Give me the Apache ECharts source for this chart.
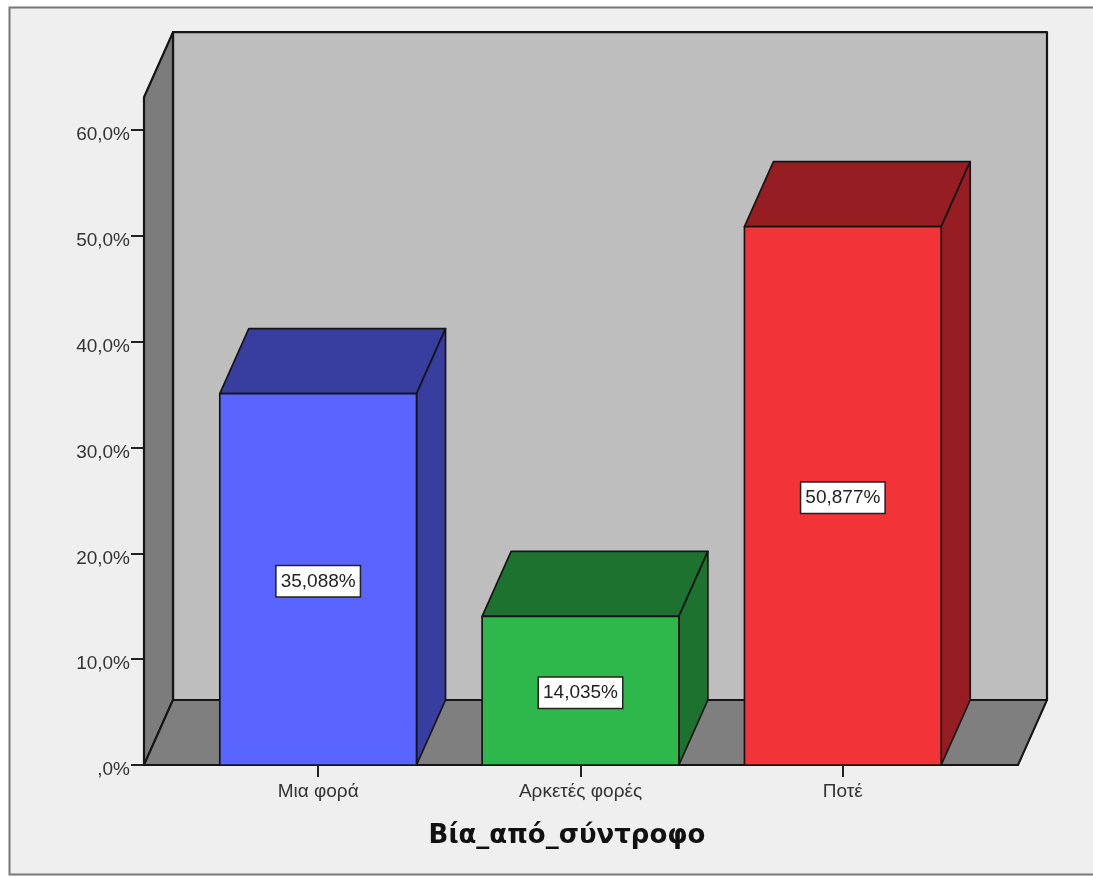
<!DOCTYPE html>
<html>
<head>
<meta charset="utf-8">
<style>html,body{margin:0;padding:0;background:#fff}#chart{width:1093px;height:877px}</style>
<script src="https://cdn.jsdelivr.net/npm/echarts@6/dist/echarts.min.js"></script>
</head>
<body>
<div id="chart"></div>
<script>
// Share of respondents per answer, percent
const categories = ['Μια φορά', 'Αρκετές φορές', 'Ποτέ'];
const percentages = [35.088, 14.035, 50.877];
const percentLabels = ['35,088%', '14,035%', '50,877%'];
const frontColors = ['#5a64ff', '#2eb84c', '#f23338'];
const shadeColors = ['#383e9f', '#1d722f', '#961e22'];
const axisTitle = 'Βία_από_σύντροφο';

// Oblique projection of the box depth, in pixels
const depthX = 29;
const depthY = -65;
const wallTopValue = 63.1;
const wallSideMargin = 43;

function poly(points, fill, lineWidth) {
  return {
    type: 'polygon',
    shape: { points },
    style: { fill, stroke: '#151515', lineWidth, lineJoin: 'round' }
  };
}

function renderRoom(params, api) {
  const cs = params.coordSys;
  const base = api.coord([0, 0])[1];
  const top = api.coord([0, wallTopValue])[1];
  const l = cs.x - wallSideMargin;
  const r = cs.x + cs.width + wallSideMargin + 1;
  return {
    type: 'group',
    children: [
      poly([[l + depthX, top + depthY], [r + depthX, top + depthY], [r + depthX, base + depthY], [l + depthX, base + depthY]], '#bebebe', 2.2),
      poly([[l, top], [l + depthX, top + depthY], [l + depthX, base + depthY], [l, base]], '#7c7c7c', 2.2),
      poly([[l, base], [l + depthX, base + depthY], [r + depthX, base + depthY], [r, base]], '#7f7f7f', 2)
    ]
  };
}

function renderBox(params, api) {
  const i = params.dataIndex;
  const c = api.value(0);
  const v = api.value(1);
  const half = api.size([1, 0])[0] * 0.375;
  const [cx, yTop] = api.coord([c, v]);
  const yBase = api.coord([c, 0])[1];
  const mid = api.coord([c, v / 2])[1];
  const x0 = cx - half;
  const x1 = cx + half;
  return {
    type: 'group',
    children: [
      poly([[x0, yTop], [x0 + depthX, yTop + depthY], [x1 + depthX, yTop + depthY], [x1, yTop]], shadeColors[i], 1.7),
      poly([[x1, yTop], [x1 + depthX, yTop + depthY], [x1 + depthX, yBase + depthY], [x1, yBase]], shadeColors[i], 1.7),
      poly([[x0, yTop], [x1, yTop], [x1, yBase], [x0, yBase]], frontColors[i], 1.7),
      {
        type: 'text',
        x: cx,
        y: mid + 2,
        style: {
          text: percentLabels[i],
          fontFamily: 'Liberation Sans',
          fontSize: 19,
          fill: '#222',
          align: 'center',
          verticalAlign: 'middle',
          backgroundColor: '#fff',
          borderColor: '#222',
          borderWidth: 1.5,
          padding: [6, 4, 5, 4]
        }
      }
    ]
  };
}

const chart = echarts.init(document.getElementById('chart'), null, { renderer: 'canvas' });
chart.setOption({
  animation: false,
  backgroundColor: '#fff',
  graphic: [{
    type: 'rect',
    z: -10,
    shape: { x: 9.5, y: 7.5, width: 1090, height: 867 },
    style: { fill: '#efefef', stroke: '#777', lineWidth: 2 }
  }],
  grid: { left: 187, right: 119, top: 130, bottom: 112 },
  xAxis: {
    type: 'category',
    data: categories,
    axisLine: { show: false },
    axisTick: { show: true, alignWithLabel: true, length: 12, lineStyle: { color: '#222', width: 2 } },
    axisLabel: { color: '#333', fontFamily: 'Liberation Sans', fontSize: 19, margin: 17 },
    name: axisTitle,
    nameLocation: 'middle',
    nameGap: 58,
    nameTextStyle: { fontFamily: 'DejaVu Sans', fontSize: 26, fontWeight: 'bold', color: '#111', padding: [0, 27, 0, 0] }
  },
  yAxis: {
    type: 'value',
    min: 0,
    max: 60,
    interval: 10,
    offset: wallSideMargin,
    splitLine: { show: false },
    axisLine: { show: false },
    axisTick: { show: true, length: 13, lineStyle: { color: '#222', width: 2 } },
    axisLabel: {
      color: '#333',
      fontFamily: 'Liberation Sans',
      fontSize: 19,
      margin: 14,
      verticalAlign: 'top',
      lineHeight: 10,
      formatter: v => (v === 0 ? ',0%' : v.toFixed(1).replace('.', ',') + '%')
    }
  },
  series: [
    { type: 'custom', renderItem: renderRoom, data: [[0, 0]], clip: false, silent: true, z: 1 },
    { type: 'custom', renderItem: renderBox, data: percentages.map((v, i) => [i, v]), clip: false, z: 2 }
  ]
});
</script>
</body>
</html>
